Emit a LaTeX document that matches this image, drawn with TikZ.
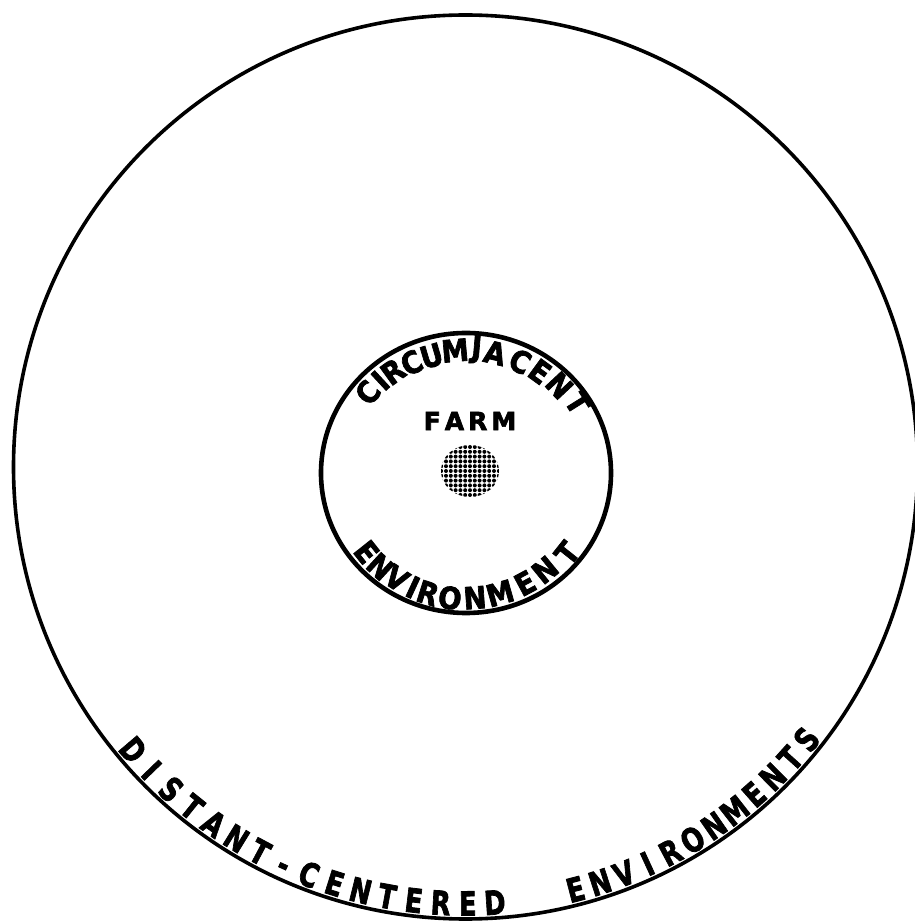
\documentclass[tikz,border=0pt]{standalone}
\usepackage{fontspec}
\usepackage{graphicx}
\usetikzlibrary{calc}
\setmainfont{DejaVu Sans}[BoldFeatures={FakeBold=2.5}]
\begin{document}
\begin{tikzpicture}[x=1pt,y=1pt,
  outerring/.style={draw=black,line width=3.6pt},
  innerring/.style={draw=black,line width=4.6pt},
  olet/.style={font=\fontsize{33}{33}\selectfont\bfseries, inner sep=0pt, anchor=base},
  ilet/.style={font=\fontsize{30.5}{30.5}\selectfont\bfseries, inner sep=0pt, anchor=center},
  farmtext/.style={font=\fontsize{25}{25}\selectfont\bfseries, inner sep=0pt},
  dot/.style={fill=black}
]
\useasboundingbox (0,0) rectangle (915,922);
\coordinate (O) at (465.5,455);
\coordinate (I) at (466,449);
\coordinate (B) at (470,451);

% rings
\draw[outerring] (O) circle [radius=452];
\draw[innerring] (I) ellipse [x radius=145, y radius=140];

% farm dot pattern
\begin{scope}
  \clip (B) ellipse [x radius=29, y radius=26];
  \foreach \i in {-7,...,7} {
    \foreach \j in {-7,...,7} {
      \fill[dot] ($(B)+(\i*4.8,\j*4.8)$) circle [radius=2.0];
    }
  }
\end{scope}

\node[farmtext] (farm) at (470,501) {F\kern4pt A\kern4pt R\kern4pt M};

% CIRCUMJACENT (top, inside inner ring)
\begin{scope}[shift={(I)}]
\foreach \a/\d/\l [count=\k] in {140.7/127/C,132.8/126/I,125.8/125/R,116.3/123/C,106.4/122/U,95.1/123/M,85.1/124/J,76.4/123.5/A,64.1/124/C,53.9/125.5/E,43.1/128/N,32/132/T} {
  \node[ilet, rotate=\a-90] (ct\k) at (\a:\d) {\scalebox{0.9}[1]{\l}};
}
% ENVIRONMENT (bottom, inside inner ring)
\foreach \a/\d/\l [count=\k] in {-141.5/127/E,-132.5/127/N,-123.3/126/V,-114.9/126/I,-107.6/126/R,-97.3/126/O,-85.9/125/N,-74.2/125/M,-61.8/125/E,-50.8/125/N,-38.4/129/T} {
  \node[ilet, rotate=\a+90] (eb\k) at (\a:\d) {\scalebox{0.9}[1]{\l}};
}
\end{scope}

% DISTANT-CENTERED ENVIRONMENTS (bottom, inside outer ring)
\begin{scope}[shift={(O)}]
\foreach \a/\l [count=\k] in {-139.6/D,-136.0/I,-132.4/S,-128.8/T,-125.2/A,-121.65/N,-118.1/T,-114.55/-,-111.0/C,-107.45/E,-103.9/N,-100.35/T,-96.8/E,-93.25/R,-89.7/E,-86.15/D,-75.4/E,-72.05/N,-68.7/V,-65.35/I,-62.0/R,-58.65/O,-55.3/N,-51.95/M,-48.6/E,-45.25/N,-41.9/T,-38.6/S} {
  \node[olet, rotate=\a+90] (dc\k) at (\a:448.5) {\scalebox{0.78}[1]{\l}};
}
\end{scope}
\end{tikzpicture}
\end{document}
